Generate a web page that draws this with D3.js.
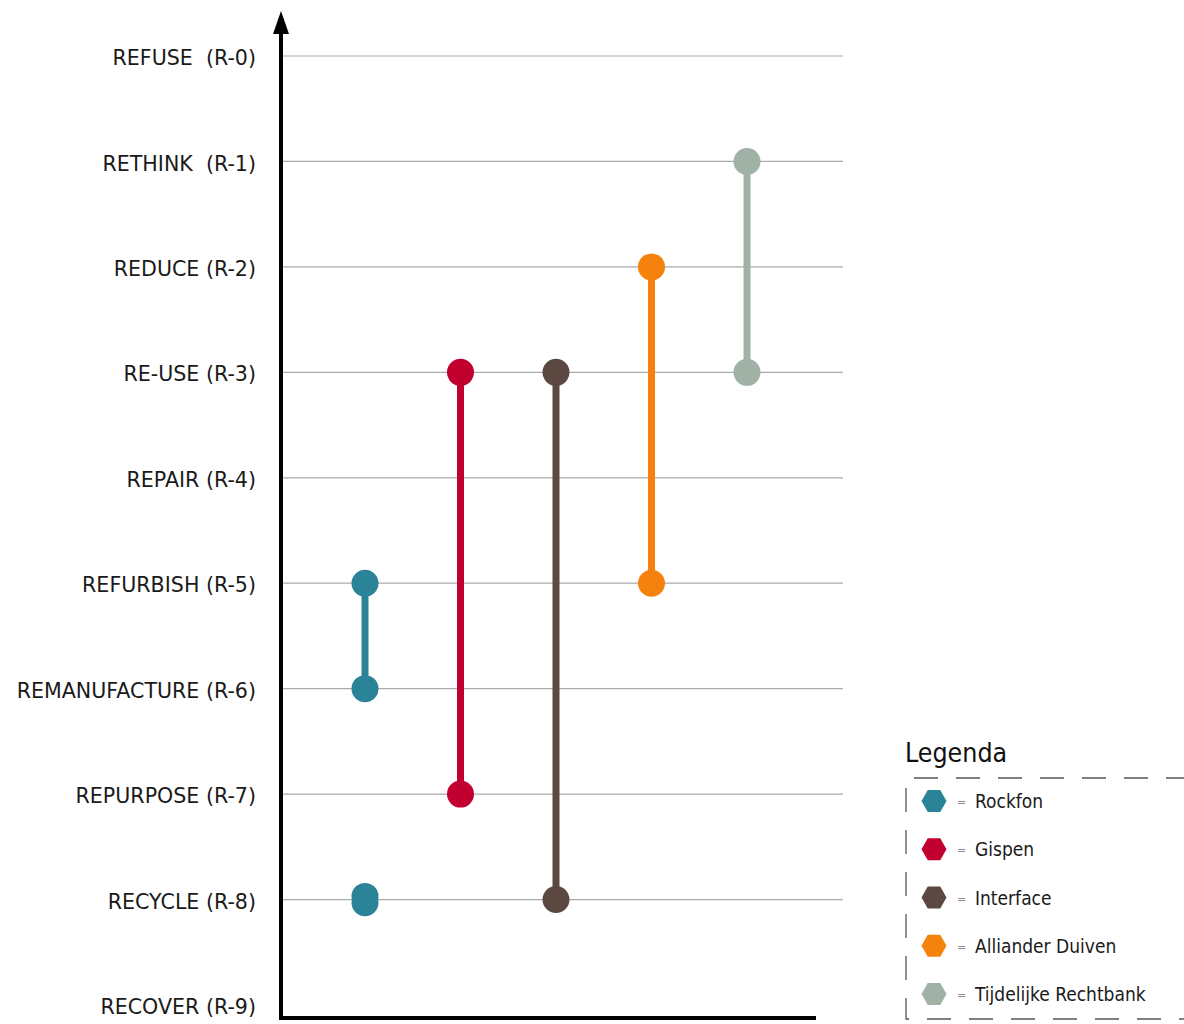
<!DOCTYPE html>
<html>
<head>
<meta charset="utf-8">
<script src="https://cdn.jsdelivr.net/npm/d3@7"></script>
<style>
  body { margin: 0; background: #fff; }
  text { font-family: "DejaVu Sans Condensed", "DejaVu Sans", sans-serif; }
</style>
</head>
<body>
<div id="chart"></div>
<script>
// R-ladder levels, top to bottom
const levels = ["REFUSE  (R-0)", "RETHINK  (R-1)", "REDUCE (R-2)", "RE-USE (R-3)", "REPAIR (R-4)",
  "REFURBISH (R-5)", "REMANUFACTURE (R-6)", "REPURPOSE (R-7)", "RECYCLE (R-8)", "RECOVER (R-9)"];

const companies = ["Rockfon", "Gispen", "Interface", "Alliander Duiven", "Tijdelijke Rechtbank"];
const colors = ["#2b8397", "#c10030", "#5b4840", "#f5820d", "#a0b1a6"];

// each range: company, from level, to level
const rangeCompany = ["Rockfon", "Rockfon", "Gispen", "Interface", "Alliander Duiven", "Tijdelijke Rechtbank"];
const rangeFrom = [5, 7.97, 3, 3, 2, 1];
const rangeTo = [6, 8.03, 7, 8, 5, 3];

const width = 1184, height = 1024;

const svg = d3.select("#chart").append("svg")
    .attr("width", width)
    .attr("height", height);

const y = d3.scaleLinear().domain([0, 9]).range([56, 1005]);
const x = d3.scalePoint().domain(companies).range([365, 747]);
const color = d3.scaleOrdinal().domain(companies).range(colors);

// gridlines
svg.append("g")
    .selectAll("line")
    .data(d3.range(0, 9))
    .enter().append("line")
    .attr("x1", 283).attr("x2", 843)
    .attr("y1", d => y(d)).attr("y2", d => y(d))
    .attr("stroke", "#aaaaaa")
    .attr("stroke-width", 1.2);

// level labels
const yAxis = d3.axisLeft(y)
    .tickValues(d3.range(0, 10))
    .tickFormat(d => levels[d])
    .tickSize(0)
    .tickPadding(0);
const ya = svg.append("g")
    .attr("transform", "translate(256,2)")
    .call(yAxis);
ya.select(".domain").remove();
ya.selectAll("text")
    .style("font-family", "'DejaVu Sans', sans-serif")
    .attr("font-size", 20.6)
    .attr("fill", "#1a1a1a")
    .style("white-space", "pre");

// axes
svg.append("line")
    .attr("x1", 281).attr("x2", 281)
    .attr("y1", 30).attr("y2", 1020)
    .attr("stroke", "#000").attr("stroke-width", 4);
svg.append("path")
    .attr("d", "M281,11 L273,34 L289,34 Z")
    .attr("fill", "#000");
svg.append("line")
    .attr("x1", 279).attr("x2", 816)
    .attr("y1", 1018).attr("y2", 1018)
    .attr("stroke", "#000").attr("stroke-width", 4);

// ranges
const ranges = rangeCompany.map((c, i) => ({company: c, from: rangeFrom[i], to: rangeTo[i]}));

svg.append("g")
    .selectAll("line")
    .data(ranges)
    .enter().append("line")
    .attr("x1", d => x(d.company)).attr("x2", d => x(d.company))
    .attr("y1", d => y(d.from)).attr("y2", d => y(d.to))
    .attr("stroke", d => color(d.company))
    .attr("stroke-width", 7);

const dots = [];
ranges.forEach(d => { dots.push({company: d.company, v: d.from}); dots.push({company: d.company, v: d.to}); });

svg.append("g")
    .selectAll("circle")
    .data(dots)
    .enter().append("circle")
    .attr("cx", d => x(d.company))
    .attr("cy", d => y(d.v))
    .attr("r", 13.5)
    .attr("fill", d => color(d.company));

// legend
const legend = svg.append("g");
legend.append("text")
    .attr("x", 905).attr("y", 762)
    .attr("font-size", 26.5)
    .attr("fill", "#111")
    .text("Legenda");
legend.append("path")
    .attr("d", "M1190,778 L906,778 L906,1019 L1190,1019")
    .attr("fill", "none")
    .attr("stroke", "#555")
    .attr("stroke-width", 1.3)
    .attr("stroke-dasharray", "24,18");

const ly = d3.scalePoint().domain(companies).range([801, 994]);
function hexagon(cx, cy, rx, ry) {
  const pts = [[-rx, 0], [-rx / 2, -ry], [rx / 2, -ry], [rx, 0], [rx / 2, ry], [-rx / 2, ry]];
  return d3.line()(pts.map(p => [cx + p[0], cy + p[1]])) + "Z";
}
const items = legend.selectAll(".item")
    .data(companies)
    .enter().append("g")
    .attr("class", "item");
items.append("path")
    .attr("d", d => hexagon(934, ly(d), 12.5, 11))
    .attr("fill", d => color(d));
items.append("text")
    .attr("x", 957).attr("y", d => ly(d) + 5)
    .attr("font-size", 12)
    .attr("fill", "#888")
    .text("=");
items.append("text")
    .attr("x", 975).attr("y", d => ly(d) + 7)
    .attr("font-size", 19)
    .attr("fill", "#1a1a1a")
    .text(d => d);
</script>
</body>
</html>
